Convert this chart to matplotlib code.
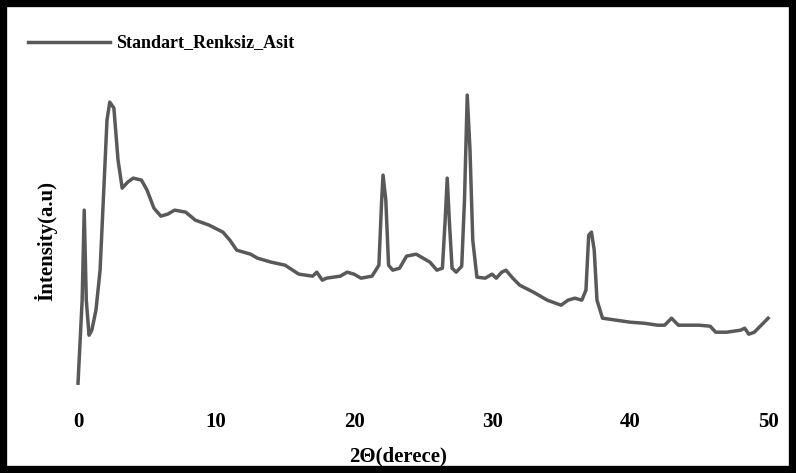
import matplotlib
matplotlib.use("Agg")
import matplotlib.pyplot as plt
from matplotlib.patches import Rectangle
from matplotlib.lines import Line2D

two_theta = [0.0, 0.3, 0.45, 0.6, 0.8, 1.0, 1.3, 1.6, 1.9, 2.1, 2.3, 2.6, 2.9, 3.2, 3.6, 4.0,
             4.6, 5.0, 5.5, 6.0, 6.5, 7.0, 7.8, 8.5, 9.5, 10.5, 11.0, 11.5, 12.5, 13.0, 14.0,
             15.0, 16.0, 17.0, 17.3, 17.7, 18.0, 19.0, 19.5, 20.0, 20.5, 21.3, 21.8, 22.0,
             22.1, 22.3, 22.5, 22.8, 23.3, 23.8, 24.5, 25.0, 25.5, 26.0, 26.4, 26.6, 26.75,
             26.9, 27.1, 27.4, 27.8, 28.0, 28.2, 28.4, 28.6, 28.9, 29.5, 30.0, 30.3, 30.7,
             31.0, 31.5, 32.0, 33.0, 34.0, 35.0, 35.5, 36.0, 36.5, 36.8, 37.0, 37.2, 37.4,
             37.6, 38.0, 39.0, 40.0, 41.0, 42.0, 42.5, 43.0, 43.5, 44.0, 45.0, 45.8, 46.2,
             47.0, 48.0, 48.3, 48.6, 49.0, 49.5, 50.0]
intensity = [17, 100, 190, 100, 65, 70, 90, 130, 220, 280, 298, 292, 240, 212, 218, 222,
             220, 210, 192, 184, 186, 190, 188, 180, 175, 168, 160, 150, 146, 142, 138,
             135, 126, 124, 128, 120, 122, 124, 128, 126, 122, 124, 135, 200,
             225, 200, 135, 130, 132, 144, 146, 142, 138, 130, 132, 180, 222,
             180, 132, 128, 134, 200, 305, 250, 160, 123, 122, 126, 122, 128,
             130, 122, 115, 108, 100, 95, 100, 102, 100, 110, 165, 168, 150,
             100, 82, 80, 78, 77, 75, 75, 82, 75, 75, 75, 74, 68,
             68, 70, 72, 66, 68, 75, 82]

fig = plt.figure(figsize=(7.96, 4.73), dpi=100)
ax = fig.add_axes([0.098, 0.175, 0.867, 0.698])
ax.plot(two_theta, intensity, color="#595959", linewidth=2.5, clip_on=False)
ax.set_xlim(0, 50)
ax.set_ylim(10, 340)
ax.set_xticks([0, 10, 20, 30, 40, 50])
ax.set_yticks([])
for s in ax.spines.values():
    s.set_visible(False)
ax.tick_params(axis="x", length=0, pad=16)
for lbl in ax.get_xticklabels():
    lbl.set_fontfamily("Liberation Serif")
    lbl.set_fontweight("bold")
    lbl.set_fontsize(15)

fig.text(0.5, 0.034, "2Θ(derece)", ha="center", va="center",
         family="Liberation Serif", weight="bold", fontsize=15)
fig.text(0.057, 0.49, "İntensity(a.u)", ha="center", va="center", rotation=90,
         family="Liberation Serif", weight="bold", fontsize=15)

fig.add_artist(Line2D([0.035, 0.138], [0.911, 0.911], color="#595959", linewidth=2.5))
fig.text(0.146, 0.911, "Standart_Renksiz_Asit", ha="left", va="center",
         family="Liberation Serif", weight="bold", fontsize=13)

fig.add_artist(Rectangle((0.004, 0.006), 0.992, 0.988, transform=fig.transFigure,
                         fill=False, edgecolor="black", linewidth=6))

fig.savefig("out.png", dpi=100)
